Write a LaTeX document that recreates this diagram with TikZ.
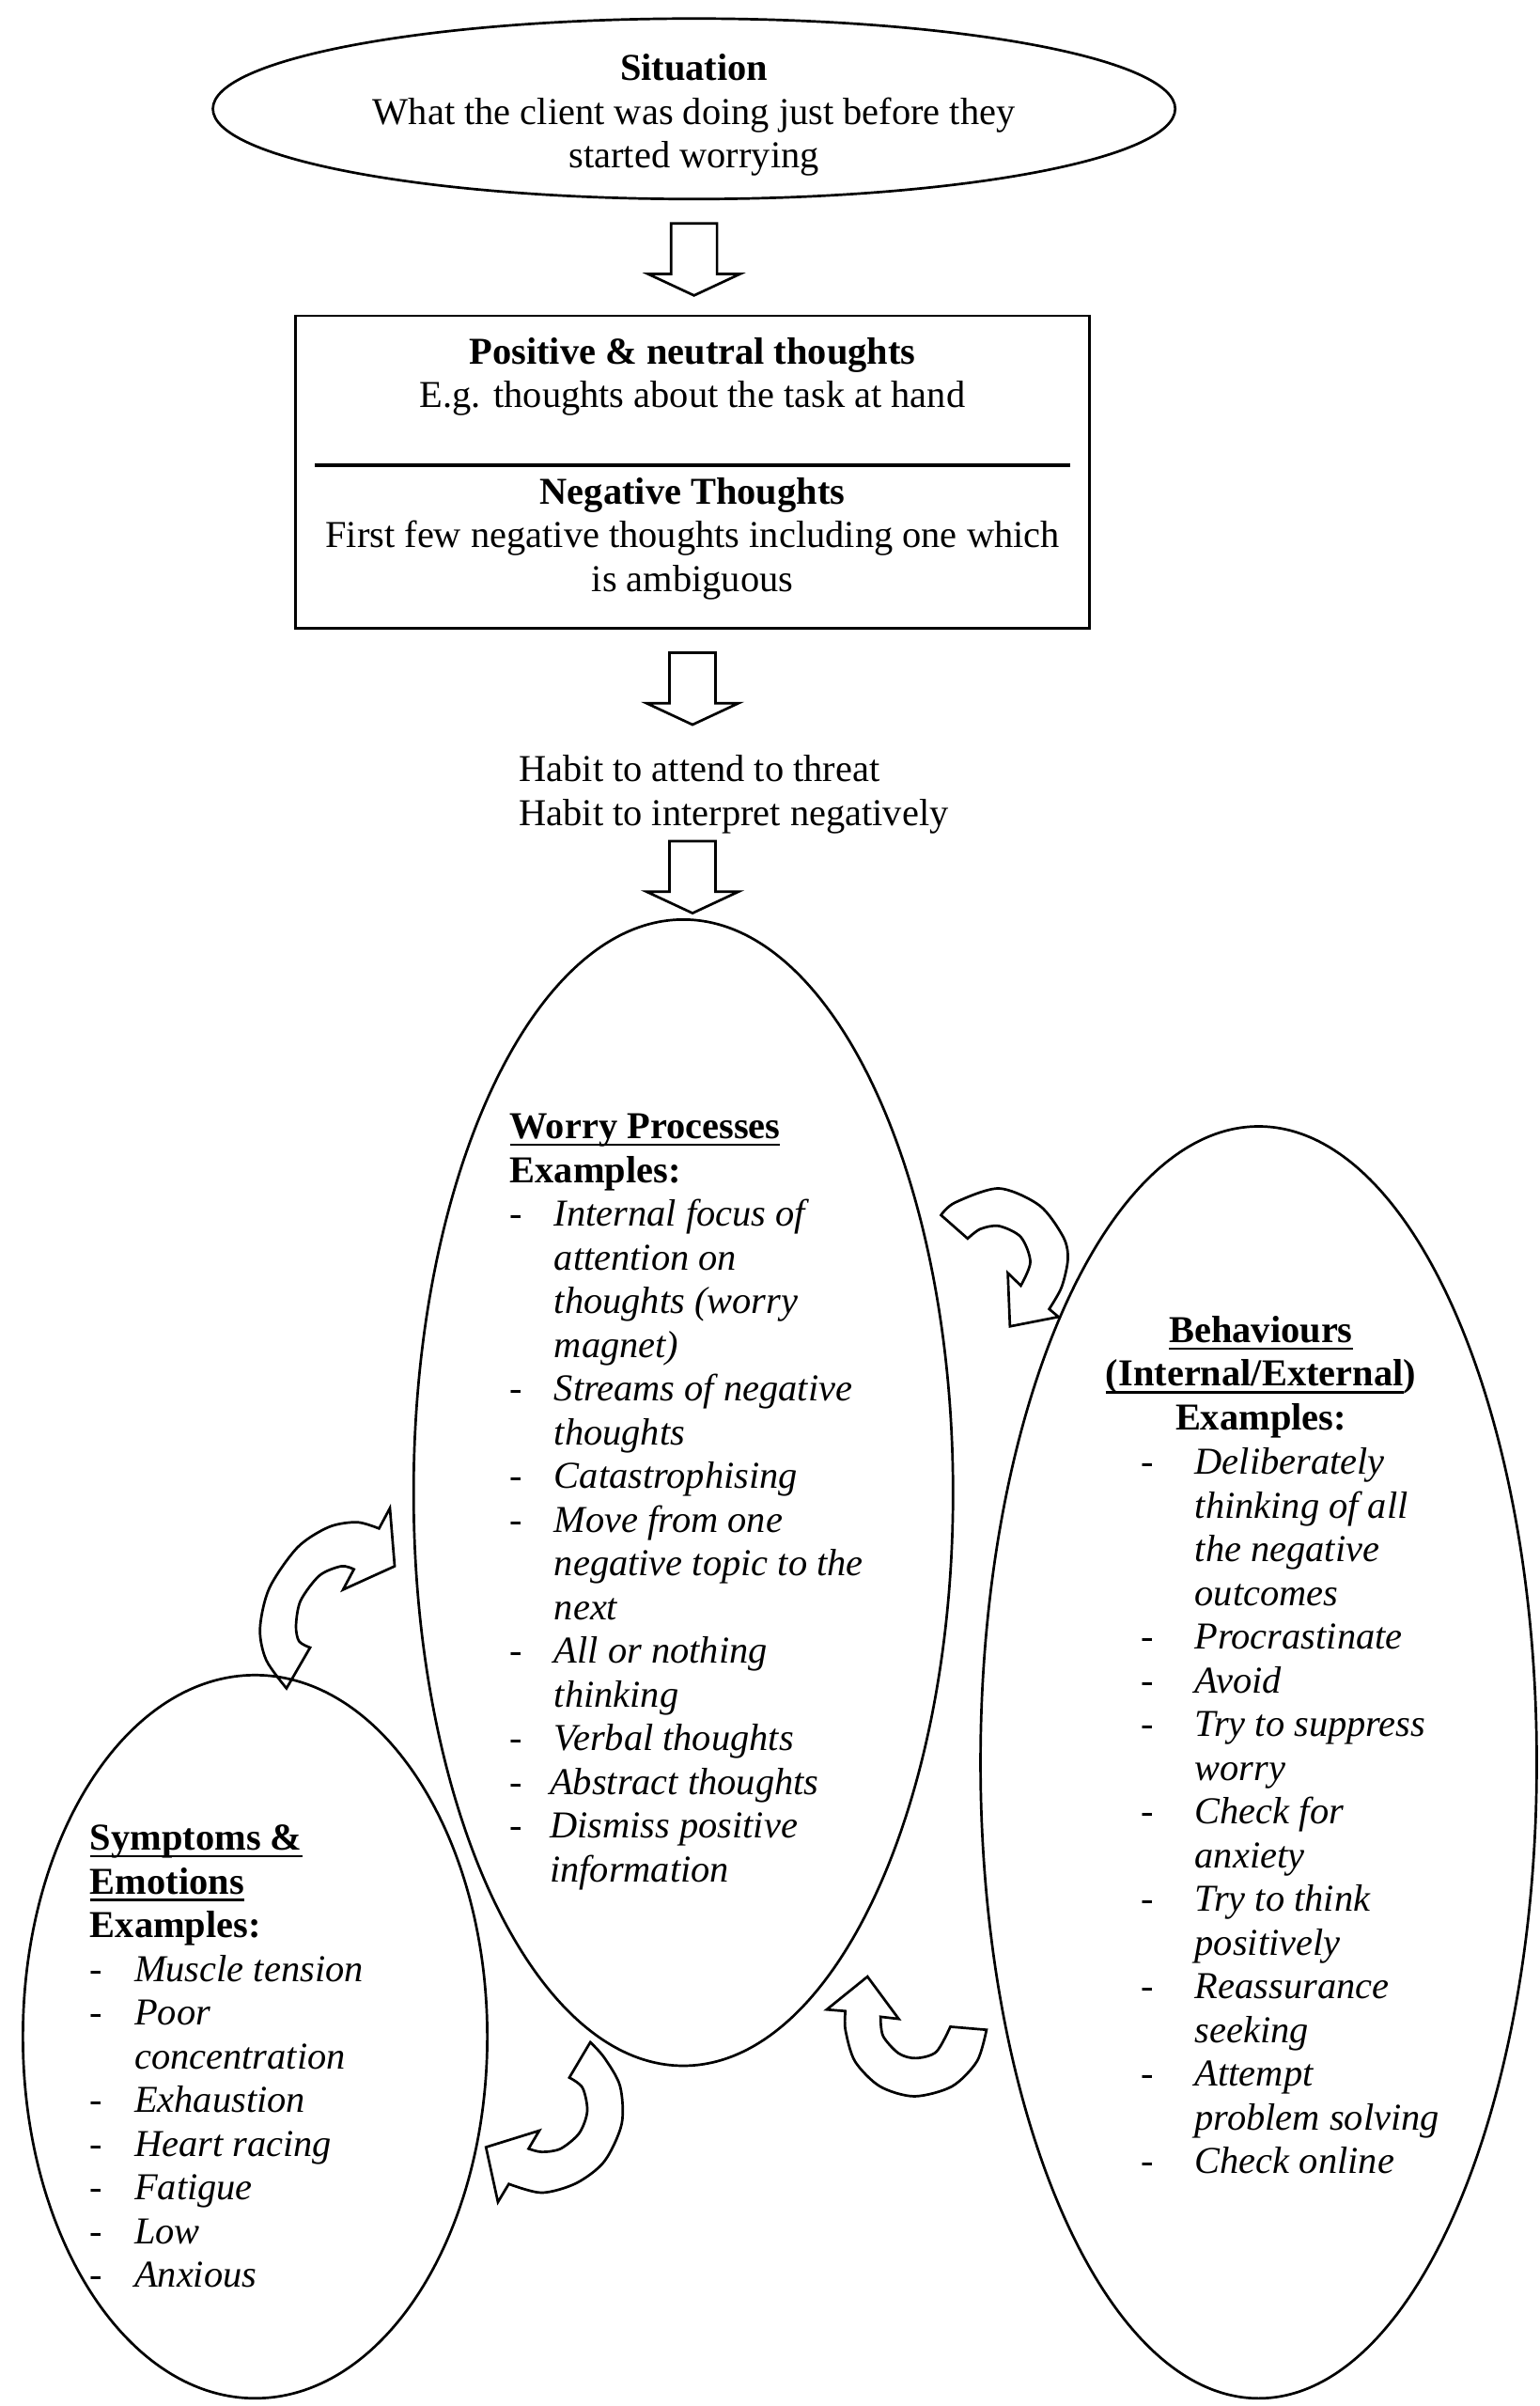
\documentclass[tikz,border=0pt]{standalone}
\usepackage{fontspec}
\setmainfont{Liberation Serif}
\usetikzlibrary{positioning}
\usetikzlibrary{shapes.geometric}
\usetikzlibrary{calc}
\newsavebox{\undlbox}
\newcommand{\undl}[1]{\sbox{\undlbox}{#1}\rlap{\rule[-2.3pt]{\wd\undlbox}{0.8pt}}\usebox{\undlbox}}
\newcommand{\litem}[2][14pt]{\makebox[#1][l]{-}\textit{#2}}
\newcommand{\lcont}[2][14pt]{\hspace*{#1}\textit{#2}}
\begin{document}
\begin{tikzpicture}[x=0.484pt,y=-0.484pt,line width=0.8pt,
	every node/.style={font=\fontsize{12}{13.8}\selectfont, inner sep=0pt},
	oval/.style={ellipse, draw},
	txt/.style={align=left, anchor=north west},
	downarr/.pic={\draw (-15,0)--(15,0)--(15,33)--(30,33)--(0,47)--(-30,33)--(-15,33)--cycle;}]
	\useasboundingbox (0,0) rectangle (1005,1570);
	\node [oval, minimum width=304pt, minimum height=57pt] at (453,71) (0sit) {};
	\node [align=center] at ([yshift=-2pt]0sit.center) (0sittxt) {\textbf{Situation}\\What the client was doing just before they\\started worrying};
	\node [draw, minimum width=250.7pt, minimum height=98.7pt, align=center] at (452,308) (1box) {\textbf{Positive \& neutral thoughts}\\E.g. thoughts about the task at hand\\[5.1pt]\rule{238.6pt}{1.3pt}\\[-2.2pt]\textbf{Negative Thoughts}\\First few negative thoughts including one which\\is ambiguous\rule[-4.7pt]{0pt}{0pt}};
	\pic at ([yshift=-7.3pt]0sit.south) {downarr}; \pic at ([yshift=-7.3pt]1box.south) {downarr};
	\node [txt] at (338,492) (2habit) {Habit to attend to threat\\Habit to interpret negatively};
	\pic at ([yshift=-2pt]2habit.south -| 1box.south) {downarr};
	\node [oval, minimum width=170.4pt, minimum height=362pt] at (446,974) (3worry) {};
	\node [oval, minimum width=175.7pt, minimum height=401.7pt] at (821.5,1150) (4beh) {};
	\node [oval, minimum width=146.7pt, minimum height=228.4pt] at (166.5,1329) (5sym) {};
	\node [txt] at (332,726) (3worrytxt) {\textbf{\undl{Worry Processes}}\\\textbf{Examples:}\\
		\litem{Internal focus of}\\ \lcont{attention on}\\ \lcont{thoughts (worry}\\ \lcont{magnet)}\\
		\litem{Streams of negative}\\ \lcont{thoughts}\\ \litem{Catastrophising}\\
		\litem{Move from one}\\ \lcont{negative topic to the}\\ \lcont{next}\\
		\litem{All or nothing}\\ \lcont{thinking}\\ \litem{Verbal thoughts}\\
		\litem[12.6pt]{Abstract thoughts}\\ \litem[12.6pt]{Dismiss positive}\\ \lcont[12.6pt]{information}};
	\node [align=center, anchor=north] at (823,858) (4behhead) {\textbf{\undl{Behaviours}}\\\textbf{\undl{(Internal/External})}\\\textbf{Examples:}};
	\node [txt] at (744,944) (4behtxt) {\litem[17pt]{Deliberately}\\ \lcont[17pt]{thinking of all}\\ \lcont[17pt]{the negative}\\ \lcont[17pt]{outcomes}\\
		\litem[17pt]{Procrastinate}\\ \litem[17pt]{Avoid}\\ \litem[17pt]{Try to suppress}\\ \lcont[17pt]{worry}\\
		\litem[17pt]{Check for}\\ \lcont[17pt]{anxiety}\\ \litem[17pt]{Try to think}\\ \lcont[17pt]{positively}\\
		\litem[17pt]{Reassurance}\\ \lcont[17pt]{seeking}\\ \litem[17pt]{Attempt}\\ \lcont[17pt]{problem solving}\\ \litem[17pt]{Check online}};
	\node [txt] at (58,1190) (5symtxt) {\textbf{\undl{Symptoms \&}}\\\textbf{\undl{Emotions}}\\\textbf{Examples:}\\
		\litem{Muscle tension}\\ \litem{Poor}\\ \lcont{concentration}\\ \litem{Exhaustion}\\
		\litem{Heart racing}\\ \litem{Fatigue}\\ \litem{Low}\\ \litem{Anxious}};
	\draw plot [smooth] coordinates {(614.2,792.9) (623.4,784.7) (652,775.5) (678.6,786.7) (694,807.2) (697,821.5) (692.9,839.9) (684.8,854.2)}
		-- (690.9,859.3) -- (659.2,865.5) -- (657.8,830.7)
		-- plot [smooth] coordinates {(666.3,838.9) (672.5,823.5) (666.3,807.2) (652,800) (639.8,802) (631.6,808.2)} -- cycle;
	\draw plot [smooth] coordinates {(187,1101.7) (173.8,1083.3) (169.7,1062.9) (175.8,1036.3) (194.2,1009.7) (214.7,996.4) (233.1,993.3) (247.4,997.4)}
		-- (254.5,984.1) -- (257.6,1022) -- (223.9,1037.3)
		-- plot [smooth] coordinates {(231,1024) (222.8,1022) (208.5,1028.1) (196.2,1044.5) (193.2,1060.8) (195.2,1071) (202.4,1075.1)} -- cycle;
	\draw plot [smooth] coordinates {(385.3,1332.6) (394.5,1342.8) (404.7,1361.2) (405.8,1385.8) (394.5,1410.3) (376.1,1424.6) (353.6,1430.8) (332.1,1425.1)}
		-- (325,1436.9) -- (317.2,1401.1) -- (352,1390.3)
		-- plot [smooth] coordinates {(345,1402.1) (353.6,1404.2) (365.9,1402.1) (378.1,1391.9) (383.3,1377.6) (380.2,1362.3) (371.6,1355.7)} -- cycle;
	\draw plot [smooth] coordinates {(643.9,1324.5) (637.7,1345) (621.4,1361.4) (596.8,1367.9) (574.3,1361.4) (558,1345) (551.8,1324.5) (551.8,1312.3)}
		-- (539.6,1311.3) -- (566.2,1289.8) -- (586.6,1317.4)
		-- plot [smooth] coordinates {(574.7,1316) (576.4,1328.6) (586.6,1339.9) (597.8,1343) (611.1,1338.9) (620.3,1322.5)} -- cycle;
\end{tikzpicture}
\end{document}
